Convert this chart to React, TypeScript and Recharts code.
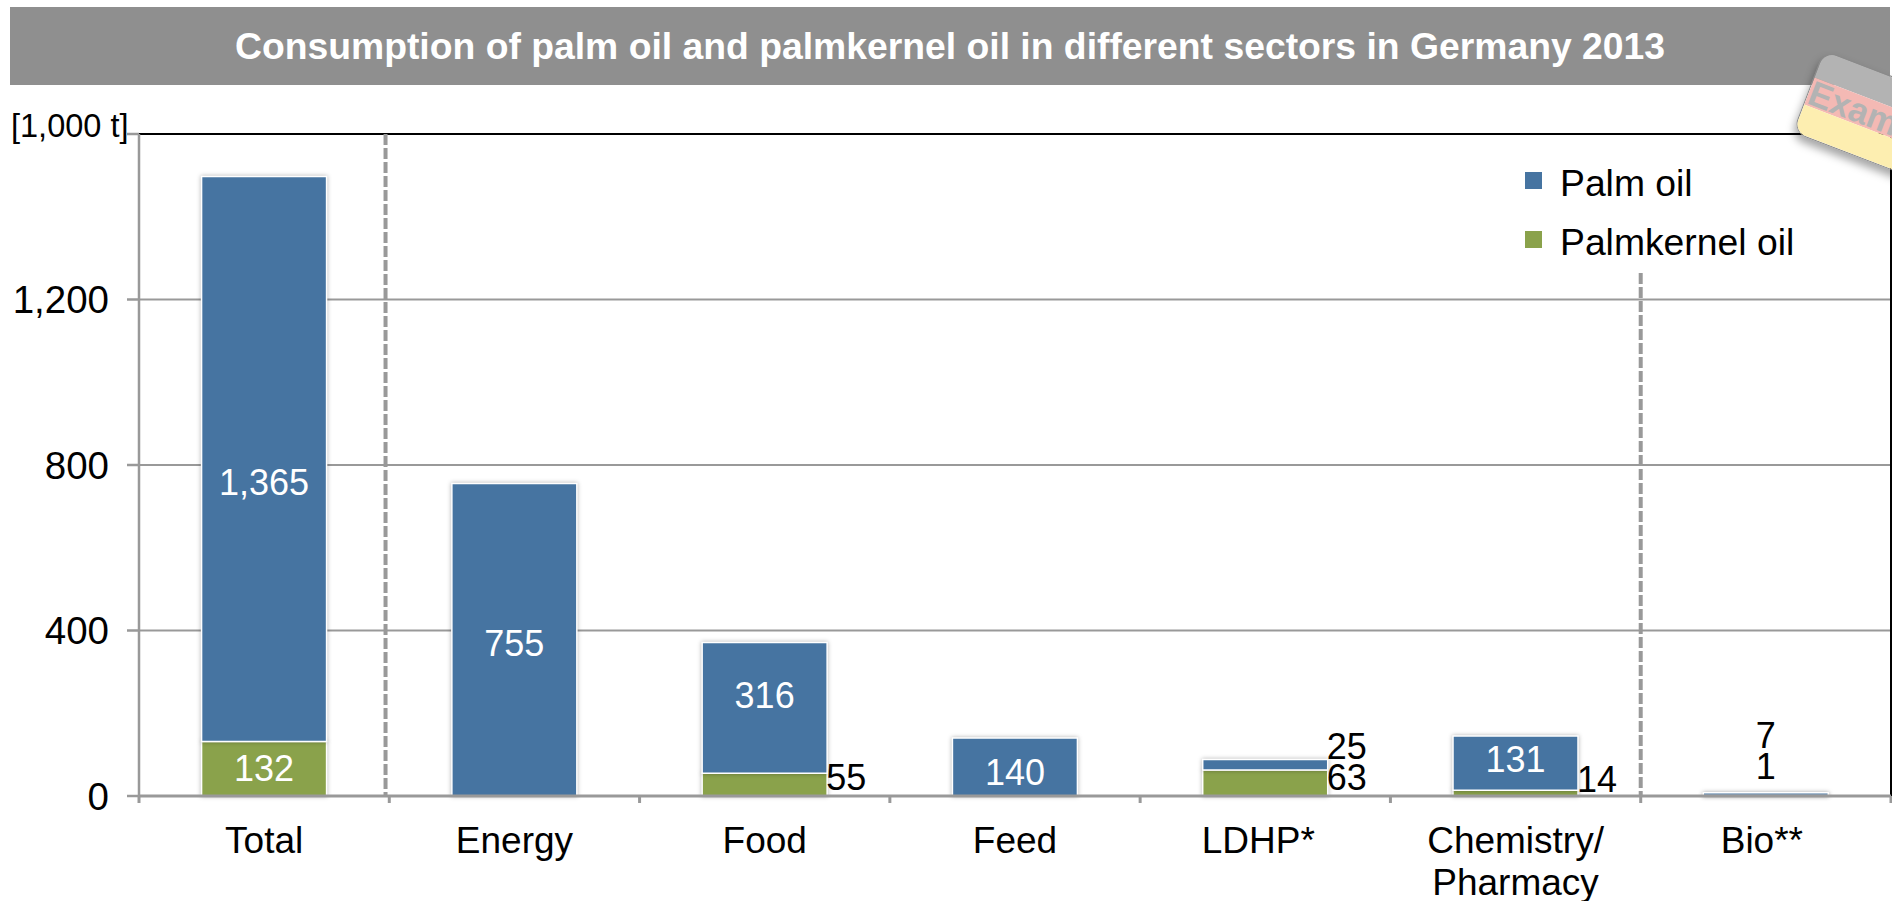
import React from "react";
import {
  BarChart, Bar, XAxis, YAxis, CartesianGrid, Legend, LabelList, ReferenceLine,
} from "recharts";

const categories = ["Total", "Energy", "Food", "Feed", "LDHP*", "Chemistry/ Pharmacy", "Bio**"];
const palmOil = [1365, 755, 316, 140, 25, 131, 7];
const palmkernelOil = [132, 0, 55, 0, 63, 14, 1];
const sectorIndex = [0, 1, 2, 3, 4, 5, 6];
const yTicks = [0, 400, 800, 1200, 1600];
const sectorEdges = [0, 1, 2, 3, 4, 5, 6, 7];

const BLUE = "#4674a1";
const GREEN = "#8aa24b";
const GREY = "#999999";
const FONT = "'Liberation Sans', Arial, sans-serif";

// axis 0 holds the baseline and the tick marks between sectors, axis 1 the sector names
const EDGE_AXIS = 0;
const NAME_AXIS = 1;

const rows = categories.map((name, i) => ({
  name,
  edge: sectorIndex[i],
  palm: palmOil[i],
  kernel: palmkernelOil[i],
}));

// nudges so the labels sit where the original slide has them
const palmShift: Record<string, number> = { Total: 23, Food: -12, Energy: 4, Feed: 5, LDHP: -18, Chemistry: -4 };
const kernelShift: Record<string, number> = { Food: -7, LDHP: -5, Chemistry: -14 };
const tickShift: Record<string, number> = { "LDHP*": -7, "Bio**": -4 };

function barLabel(series: number[], shift: Record<string, number>, bioLift: number) {
  return (props: any) => {
    const { x, y, width, height, value } = props;
    if (!value) return null;
    const key = categories[series.indexOf(value)].replace(/[*/ ].*$/, "");
    const dy = shift[key] ?? 0;
    const common = { fontFamily: FONT, fontSize: 36, dominantBaseline: "central" as const };
    if (key === "Bio") {
      return (
        <text x={x + width / 2} y={y - bioLift} textAnchor="middle" fill="#000" {...common}>{value}</text>
      );
    }
    if (value < 100) {
      return (
        <text x={x + width - 1} y={y + height / 2 + dy} textAnchor="start" fill="#000" {...common}>{value}</text>
      );
    }
    return (
      <text x={x + width / 2} y={y + height / 2 + dy} textAnchor="middle" fill="#fff" {...common}>
        {value.toLocaleString("en-US")}
      </text>
    );
  };
}

function SectorTick({ x, y, payload }: any) {
  const lines = String(payload.value).split(" ");
  const tx = x + (tickShift[payload.value] ?? 0);
  return (
    <text x={tx} y={y} textAnchor="middle" fontFamily={FONT} fontSize={37} fill="#000">
      {lines.map((l, i) => (
        <tspan key={l} x={tx} dy={i === 0 ? 0 : 42}>{l}</tspan>
      ))}
    </text>
  );
}

function LegendBox() {
  const items = [
    { label: "Palm oil", color: BLUE },
    { label: "Palmkernel oil", color: GREEN },
  ];
  return (
    <div>
      {items.map((it) => (
        <div key={it.label} style={{ display: "flex", alignItems: "center", height: 59, fontFamily: FONT, fontSize: 37.3, color: "#000" }}>
          <span style={{ width: 17, height: 17, background: it.color, marginRight: 18 }} />
          <span style={{ position: "relative", top: 3 }}>{it.label}</span>
        </div>
      ))}
    </div>
  );
}

function Badge() {
  return (
    <div
      style={{
        position: "absolute", left: 1824, top: 50, width: 190, height: 86,
        borderRadius: 14, overflow: "hidden", transform: "rotate(21deg)", transformOrigin: "0 0",
        boxShadow: "0 6px 8px rgba(0,0,0,0.35)", border: "1px solid #8a8a8a",
        fontFamily: FONT, fontWeight: "bold", fontSize: 35, color: "#b3b3b3",
      }}
    >
      <div style={{ height: 28, background: "#b3b3b3" }} />
      <div style={{ height: 29, background: "#f4b9b4", lineHeight: "29px", paddingLeft: 1 }}>Example</div>
      <div style={{ height: 29, background: "#fdeeb0" }} />
    </div>
  );
}

export default function App() {
  return (
    <div style={{ position: "absolute", left: 0, top: 0, width: 1892, height: 901, overflow: "hidden", background: "#fff" }}>
      <div
        style={{
          position: "absolute", left: 10, top: 7, width: 1880, height: 78, background: "#8f8f8f",
          color: "#fff", fontFamily: FONT, fontWeight: "bold", fontSize: 37.3, lineHeight: "78px", textAlign: "center",
        }}
      >
        Consumption of palm oil and palmkernel oil in different sectors in Germany 2013
      </div>
      <div style={{ position: "absolute", left: 11, top: 108, fontFamily: FONT, fontSize: 32.5, color: "#000" }}>[1,000 t]</div>

      <BarChart
        width={1892}
        height={901}
        data={rows}
        barCategoryGap="25%"
        margin={{ top: 134, right: 1, bottom: 0, left: 0 }}
        style={{ position: "absolute", left: 0, top: 0 }}
      >
        <CartesianGrid xAxisId={NAME_AXIS} vertical={false} stroke={GREY} strokeWidth={2} horizontalValues={[400, 800, 1200]} />
        <XAxis
          xAxisId={EDGE_AXIS}
          dataKey="edge"
          type="number"
          domain={[0, 7]}
          allowDataOverflow
          ticks={sectorEdges}
          interval={0}
          height={1}
          tickFormatter={() => ""}
          stroke={GREY}
          strokeWidth={3}
          tickSize={7}
        />
        <XAxis
          xAxisId={NAME_AXIS}
          dataKey="name"
          height={104}
          axisLine={false}
          tickLine={false}
          interval={0}
          tick={<SectorTick />}
          tickMargin={50}
        />
        <YAxis
          width={139}
          domain={[0, 1600]}
          ticks={yTicks}
          interval={0}
          tickFormatter={(v: number) => (v === 1600 ? "" : v.toLocaleString("en-US"))}
          tick={{ fill: "#000", fontSize: 38.5, fontFamily: FONT }}
          stroke={GREY}
          strokeWidth={2.5}
          tickSize={12}
          tickMargin={18}
        />
        <ReferenceLine xAxisId={EDGE_AXIS} y={1600} stroke="#000" strokeWidth={2} />
        <ReferenceLine xAxisId={EDGE_AXIS} x={7} stroke="#000" strokeWidth={2} />
        <ReferenceLine xAxisId={EDGE_AXIS} segment={[{ x: 0.985, y: 1600 }, { x: 0.985, y: 0 }]} stroke={GREY} strokeWidth={4} strokeDasharray="11 3" />
        <ReferenceLine xAxisId={EDGE_AXIS} segment={[{ x: 6, y: 1264 }, { x: 6, y: 0 }]} stroke={GREY} strokeWidth={4} strokeDasharray="11 3" />
        <Bar xAxisId={NAME_AXIS} dataKey="kernel" name="Palmkernel oil" stackId="s" fill={GREEN} stroke="#fff" strokeWidth={1.5} isAnimationActive={false} style={{ filter: "drop-shadow(0 0 2px rgba(0,0,0,0.3))" }}>
          <LabelList dataKey="kernel" content={barLabel(palmkernelOil, kernelShift, 29)} />
        </Bar>
        <Bar xAxisId={NAME_AXIS} dataKey="palm" name="Palm oil" stackId="s" fill={BLUE} stroke="#fff" strokeWidth={1.5} isAnimationActive={false} style={{ filter: "drop-shadow(0 0 2px rgba(0,0,0,0.3))" }}>
          <LabelList dataKey="palm" content={barLabel(palmOil, palmShift, 57)} />
        </Bar>
        <Legend
          content={<LegendBox />}
          layout="vertical"
          align="center"
          verticalAlign="middle"
          wrapperStyle={{ position: "absolute", left: 1525, top: 151, width: 360, bottom: "auto" }}
        />
      </BarChart>
      <Badge />
    </div>
  );
}
